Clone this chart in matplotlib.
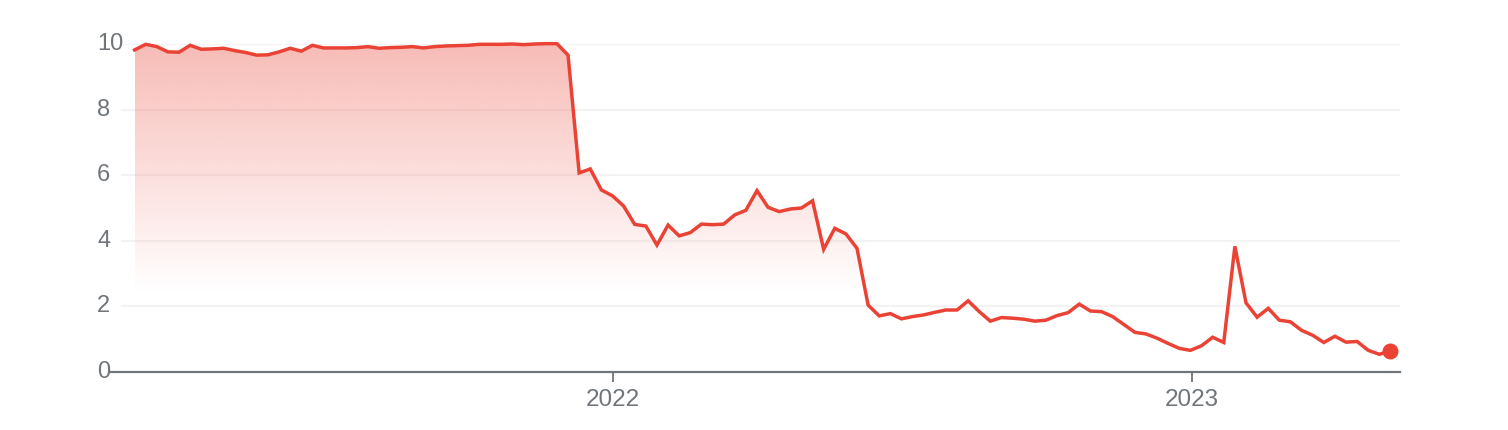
import numpy as np
import pandas as pd
import matplotlib
matplotlib.use("Agg")
import matplotlib.pyplot as plt
import matplotlib.dates as mdates
from matplotlib.colors import to_rgb

# weekly values
start_date = "2021-03-06"
values = [
    9.82, 9.99, 9.92, 9.76, 9.75, 9.96, 9.84, 9.85, 9.87, 9.80,
    9.74, 9.66, 9.67, 9.76, 9.87, 9.78, 9.96, 9.88, 9.88, 9.88,
    9.89, 9.92, 9.87, 9.89, 9.90, 9.92, 9.88, 9.92, 9.94, 9.95,
    9.96, 9.99, 9.99, 9.99, 10.0, 9.98, 10.0, 10.01, 10.01, 9.66,
    6.07, 6.19, 5.55, 5.37, 5.06, 4.50, 4.45, 3.87, 4.48, 4.15,
    4.25, 4.51, 4.49, 4.51, 4.79, 4.93, 5.53, 5.02, 4.89, 4.97,
    5.00, 5.22, 3.74, 4.38, 4.21, 3.77, 2.04, 1.71, 1.78, 1.62,
    1.69, 1.74, 1.82, 1.89, 1.89, 2.17, 1.84, 1.55, 1.66, 1.64,
    1.61, 1.55, 1.58, 1.72, 1.81, 2.07, 1.86, 1.84, 1.69, 1.45,
    1.21, 1.16, 1.03, 0.87, 0.72, 0.66, 0.80, 1.06, 0.90, 3.83,
    2.11, 1.67, 1.94, 1.58, 1.53, 1.27, 1.12, 0.90, 1.09, 0.91,
    0.93, 0.66, 0.54, 0.64,
]
y_ticks = [0, 2, 4, 6, 8, 10]
x_ticks = ["2022-01-01", "2023-01-01"]
x_tick_labels = ["2022", "2023"]

dates = pd.date_range(start_date, periods=len(values), freq="7D")
line_color = "#ea4335"
grey = "#70757a"
font = "Liberation Sans"

W, H = 1508, 430
fig = plt.figure(figsize=(W / 100, H / 100), dpi=100)
ax_left, ax_right, ax_bottom, ax_top = 110, 1400, 372, 44
ax = fig.add_axes([ax_left / W, 1 - ax_bottom / H,
                   (ax_right - ax_left) / W, (ax_bottom - ax_top) / H])

x = mdates.date2num(dates)
x0 = mdates.date2num(pd.Timestamp("2022-01-01")) - 316.5
x1 = mdates.date2num(pd.Timestamp("2023-01-01")) + 131
ax.set_xlim(x0, x1)
ax.set_ylim(0, 10)

# gridlines
gx = 12 / (ax_right - ax_left)
for yv in y_ticks[1:]:
    ax.axhline(yv, xmin=gx, xmax=1, color="#f3f3f3", lw=1.5, zorder=0)

# gradient fill under the line
rgb = to_rgb(line_color)
ny = 300
grad = np.zeros((ny, 2, 4))
grad[..., :3] = rgb
yy = np.linspace(10, 0, ny)
alpha = np.clip((yy - 2.4) / (10 - 2.4), 0, 1) * 0.36
grad[..., 3] = alpha[:, None]
poly = ax.fill_between(x, values, 0, color="none", lw=0)
img = ax.imshow(grad, extent=[x[0], x[-1], 0, 10], aspect="auto",
                origin="upper", zorder=1, interpolation="bilinear")
img.set_clip_path(poly.get_paths()[0], transform=ax.transData)

ax.plot(x, values, color=line_color, lw=2.5, zorder=3, clip_on=False,
        solid_joinstyle="miter")
ax.plot(x[-1], values[-1], "o", color=line_color, ms=10.5, zorder=4, clip_on=False)

# zero axis line
ax.axhline(0, color=grey, lw=1.6, zorder=2, clip_on=False)

for s in ax.spines.values():
    s.set_visible(False)
ax.set_yticks([])
ax.set_xticks([mdates.date2num(pd.Timestamp(t)) for t in x_ticks])
ax.set_xticklabels(x_tick_labels, fontsize=17.5, color=grey, family=font)
ax.tick_params(axis="x", length=7.5, width=1.3, color=grey, pad=4.5)

for yv in y_ticks:
    ax.text(-13 / (ax_right - ax_left), yv, str(yv), transform=ax.get_yaxis_transform(),
            ha="left", va="center", fontsize=17, color=grey, family=font)

fig.savefig("out.png", dpi=100)
